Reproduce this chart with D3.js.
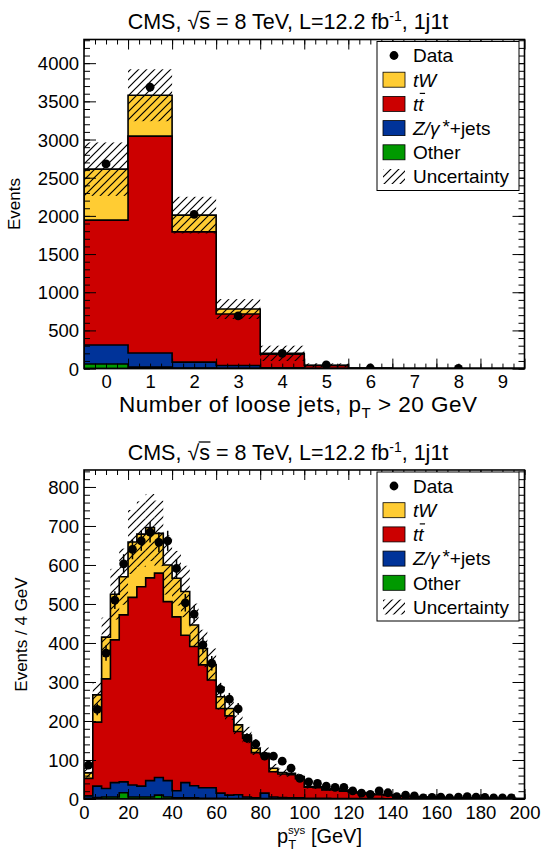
<!DOCTYPE html>
<html><head><meta charset="utf-8">
<script src="https://cdn.jsdelivr.net/npm/d3@7"></script>
<style>
body{margin:0;background:#fff}
svg{display:block}
text{font-family:"Liberation Sans",Arial,Helvetica,sans-serif;fill:#000}
</style>
</head><body>
<svg id="c" width="551" height="856"></svg>
<script>
// ---------------- Top panel: number of loose jets ----------------
const njetBins   = [0,1,2,3,4,5,6,7,8,9];
const njetData   = [2680,3685,2020,690,200,50,8,0,3,0];
const njetOther  = [60,20,8,3,1,0,0,0,0,0];
const njetZ      = [249,184,77,37,9,2,0.3,0,0,0];
const njetTT     = [1636,2840,1705,675,180,38,5,1,0.3,0.1];
const njetTW     = [667,536,220,65,10,3,0.5,0.2,0.1,0];
const njetUnc    = [350,340,240,130,100,25,4,1,0.5,0];
const njetXTicks = [0,1,2,3,4,5,6,7,8,9];
const njetYTicks = [0,500,1000,1500,2000,2500,3000,3500,4000];

// ---------------- Bottom panel: pT sys (4 GeV bins, 0-200) ----------------
const ptEdgesLow = [0,4,8,12,16,20,24,28,32,36,40,44,48,52,56,60,64,68,72,76,80,84,88,92,96,100,104,108,112,116,120,124,128,132,136,140,144,148,152,156,160,164,168,172,176,180,184,188,192,196];
const ptData  = [87,230,374,510,603,640,662,684,658,662,591,503,474,395,348,281,256,231,156,141,110,110,97,79,53,44,40,33,30,30,21,15,12,21,16,6,10,8,3,4,5,3,5,6,5,4,3,3,3,0];
const ptOther = [2,4,5,5,16,5,5,5,10,5,3,3,3,2,2,2,1,1,1,1,1,1,1,0,0,0,0,0,0,0,0,0,0,0,0,0,0,0,0,0,0,0,0,0,0,0,0,0,0,0];
const ptZ     = [6,29,22,37,28,31,28,42,45,42,18,39,31,27,27,13,9,10,4,2,14,4,3,3,3,2,2,2,1,1,1,1,1,1,0.5,0.5,0.4,0.3,0.3,0.2,0.2,0.2,0.1,0.1,0.1,0.1,0.1,0,0,0];
const ptTT    = [45,164,281,366,428,481,511,520,524,459,446,378,357,315,276,217,203,162,151,116,100,65,60,59,49,28,27,21,23,19,16,14,11,10,8.5,7,6.1,5.2,4.3,4.3,3.5,3,2.7,2.6,2.2,1.9,1.7,1.6,1.4,1.2];
const ptTW    = [14,70,107,117,98,142,135,129,102,94,99,112,55,42,39,30,19,17,8,11,2,9,4,4,5,2,2,2,2,2,1,1,1,1,1,0.5,0.5,0.5,0.4,0.5,0.3,0.3,0.2,0.3,0.2,0.2,0.2,0.2,0.1,0.1];
const ptUnc   = [12,32,50,65,72,82,84,86,84,76,70,66,55,48,42,33,29,24,21,17,15,11,10,9,8,5,5,4,4,3,3,3,2,2,2,2,1.5,1.5,1,1,1,1,1,1,1,1,1,1,1,1];
const ptXTicks = [0,20,40,60,80,100,120,140,160,180,200];
const ptYTicks = [0,100,200,300,400,500,600,700,800];

const legendLabels = ["Data","tW","tt","Z/γ","Other","Uncertainty"];
const colors = {tw:"#ffcc33", tt:"#cc0000", z:"#003399", other:"#009900"};

const svg = d3.select("#c");
const defs = svg.append("defs");
const pat = defs.append("pattern").attr("id","hatch").attr("patternUnits","userSpaceOnUse")
  .attr("width",8).attr("height",8);
pat.append("path").attr("d","M-2,2 L2,-2 M0,8 L8,0 M6,10 L10,6")
  .attr("stroke","#000").attr("stroke-width",1.2).attr("fill","none");

const X0 = 84, X1 = 524.5;

function panel(o){
  const g = svg.append("g");
  const x = d3.scaleLinear().domain(o.xDom).range([X0,X1]);
  const y = d3.scaleLinear().domain(o.yDom).range([o.yB,o.yT]);
  const clipId = "clip"+o.id;
  defs.append("clipPath").attr("id",clipId).append("rect")
    .attr("x",X0).attr("y",o.yT).attr("width",X1-X0).attr("height",o.yB-o.yT);
  const inner = g.append("g").attr("clip-path",`url(#${clipId})`);

  const n = o.lo.length;
  const rows = d3.range(n).map(i=>({lo:o.lo[i], hi:o.hi[i], other:o.other[i], z:o.z[i], tt:o.tt[i], tw:o.tw[i]}));
  const stack = d3.stack().keys(["other","z","tt","tw"])(rows);
  const area = d3.area()
    .x(d=>x(d[0])).y0(y(0)).y1(d=>y(d[1]));
  const order = [3,2,1,0];
  const fills = [colors.other, colors.z, colors.tt, colors.tw];
  order.forEach(k=>{
    const pts = [];
    stack[k].forEach((s,i)=>{ pts.push([rows[i].lo, s[1]]); pts.push([rows[i].hi, s[1]]); });
    inner.append("path").attr("d", area(pts))
      .attr("fill", fills[k]).attr("stroke","#000").attr("stroke-width",1.6).attr("stroke-linejoin","miter");
  });
  inner.selectAll("rect.unc").data(stack[3]).enter().append("rect")
    .attr("x",(d,i)=>x(rows[i].lo)).attr("width",(d,i)=>x(rows[i].hi)-x(rows[i].lo))
    .attr("y",(d,i)=>y(d[1]+o.unc[i]))
    .attr("height",(d,i)=>y(Math.max(d[1]-o.unc[i],0))-y(d[1]+o.unc[i]))
    .attr("fill","url(#hatch)");
  const dat = d3.range(n).filter(i=>o.data[i]>0).map(i=>({c:(o.lo[i]+o.hi[i])/2, v:o.data[i]}));
  inner.selectAll("line.err").data(dat).enter().append("line")
    .attr("x1",d=>x(d.c)).attr("x2",d=>x(d.c))
    .attr("y1",d=>y(d.v+Math.sqrt(d.v))).attr("y2",d=>y(Math.max(d.v-Math.sqrt(d.v),0)))
    .attr("stroke","#000").attr("stroke-width",1.5);
  inner.selectAll("circle.dat").data(dat).enter().append("circle")
    .attr("cx",d=>x(d.c)).attr("cy",d=>y(d.v)).attr("r",4.4).attr("fill","#000");

  function tk(axisFn, scale, vals, size, tr){
    g.append("g").attr("transform",tr)
      .call(axisFn(scale).tickValues(vals).tickSize(size).tickFormat(""))
      .call(s=>{s.select(".domain").remove(); s.selectAll("line").attr("stroke","#000").attr("stroke-width",1);});
  }
  tk(d3.axisBottom,x,o.xMajor,-10,`translate(0,${o.yB})`);
  tk(d3.axisBottom,x,o.xMinor,-5,`translate(0,${o.yB})`);
  tk(d3.axisTop,x,o.xMajor,-10,`translate(0,${o.yT})`);
  tk(d3.axisTop,x,o.xMinor,-5,`translate(0,${o.yT})`);
  tk(d3.axisLeft,y,o.yMajor,-12,`translate(${X0},0)`);
  tk(d3.axisLeft,y,o.yMinor,-6,`translate(${X0},0)`);
  tk(d3.axisRight,y,o.yMajor,-12,`translate(${X1},0)`);
  tk(d3.axisRight,y,o.yMinor,-6,`translate(${X1},0)`);

  g.append("g").attr("transform",`translate(0,${o.yB})`)
    .call(d3.axisBottom(x).tickValues(o.xLabels).tickSize(0).tickFormat(d3.format("d")))
    .call(s=>{s.select(".domain").remove();
      s.attr("font-family",null).attr("font-size",null);
      s.selectAll("text").attr("y",19.5).attr("dy",0).style("font-size","18.5px");});
  g.append("g").attr("transform",`translate(${X0},0)`)
    .call(d3.axisLeft(y).tickValues(o.yLabels).tickSize(0).tickPadding(5).tickFormat(d3.format("d")))
    .call(s=>{s.select(".domain").remove();
      s.attr("font-family",null).attr("font-size",null);
      s.selectAll("text").attr("dy","0.35em").style("font-size","18.5px");});

  g.append("rect").attr("x",X0).attr("y",o.yT).attr("width",X1-X0).attr("height",o.yB-o.yT)
    .attr("fill","none").attr("stroke","#000").attr("stroke-width",1.6);

  const t = g.append("text").attr("x",288).attr("y",o.yT-10.5).attr("text-anchor","middle").style("font-size","21.5px");
  t.append("tspan").text("CMS, √s = 8 TeV, L=12.2 fb");
  t.append("tspan").attr("dy",-8).style("font-size","14px").text("-1");
  t.append("tspan").attr("dy",8).text(", 1j1t");
  const es = t.node().getExtentOfChar(6);
  g.append("line").attr("x1",es.x-0.5).attr("x2",es.x+es.width+0.5)
    .attr("y1",o.yT-10.5-17.5).attr("y2",o.yT-10.5-17.5).attr("stroke","#000").attr("stroke-width",1.3);

  o.xTitle(g, o.yB+42.5);
  g.append("text").attr("transform",`translate(${o.yTitleX},${(o.yT+o.yB)/2}) rotate(-90)`)
    .attr("text-anchor","middle").style("font-size","17px").text(o.yTitle);

  const ly = o.yT+2;
  g.append("rect").attr("x",377).attr("y",ly).attr("width",142).attr("height",149)
    .attr("fill","#fff").attr("stroke","#000").attr("stroke-width",1);
  const ey = i=> ly+14+i*24.2;
  g.append("circle").attr("cx",394).attr("cy",ey(0)).attr("r",4.4).attr("fill","#000");
  const sw = [colors.tw, colors.tt, colors.z, colors.other];
  sw.forEach((c,i)=>{
    g.append("rect").attr("x",383).attr("y",ey(i+1)-7.5).attr("width",22).attr("height",15)
      .attr("fill",c).attr("stroke","#000").attr("stroke-width",0.8);
  });
  g.append("rect").attr("x",383).attr("y",ey(5)-7.5).attr("width",22).attr("height",15).attr("fill","url(#hatch)");
  const lt = (i)=> g.append("text").attr("x",413).attr("y",ey(i)).attr("dy","0.36em").style("font-size","19px");
  lt(0).text(legendLabels[0]);
  lt(1).append("tspan").style("font-style","italic").text(legendLabels[1]);
  const ttT = lt(2); ttT.append("tspan").style("font-style","italic").text(legendLabels[2]);
  const e2 = ttT.node().getExtentOfChar(1);
  g.append("line").attr("x1",e2.x+1.5).attr("x2",e2.x+e2.width+1.5).attr("y1",ey(2)-10.5).attr("y2",ey(2)-10.5)
    .attr("stroke","#000").attr("stroke-width",1.2);
  const zT = lt(3); zT.append("tspan").style("font-style","italic").text(legendLabels[3]);
  zT.append("tspan").attr("dx",3).attr("dy",-2).text("*");
  zT.append("tspan").attr("dy",2).text("+jets");
  lt(4).text(legendLabels[4]);
  lt(5).text(legendLabels[5]);
}

panel({
  id:"top", yT:39.5, yB:368.6, xDom:[-0.5,9.5], yDom:[0,4310],
  lo:njetBins.map(b=>b-0.5), hi:njetBins.map(b=>b+0.5),
  other:njetOther, z:njetZ, tt:njetTT, tw:njetTW, unc:njetUnc, data:njetData,
  xMajor:d3.range(-0.5,9.6,1), xMinor:d3.range(-0.5,9.5,0.25),
  yMajor:njetYTicks, yMinor:d3.range(0,4310,100),
  xLabels:njetXTicks, yLabels:njetYTicks,
  yTitle:"Events", yTitleX:20,
  xTitle:(g,yy)=>{
    const t=g.append("text").attr("x",298).attr("y",yy+1).attr("text-anchor","middle").style("font-size","22.5px")
      .attr("textLength",358).attr("lengthAdjust","spacing");
    t.append("tspan").text("Number of loose jets, p");
    t.append("tspan").attr("dy",6).style("font-size","15px").text("T");
    t.append("tspan").attr("dy",-6).text(" > 20 GeV");
  }
});

panel({
  id:"bot", yT:470, yB:799, xDom:[0,200], yDom:[0,843.5],
  lo:ptEdgesLow, hi:ptEdgesLow.map(v=>v+4),
  other:ptOther, z:ptZ, tt:ptTT, tw:ptTW, unc:ptUnc, data:ptData,
  xMajor:ptXTicks, xMinor:d3.range(0,201,5),
  yMajor:ptYTicks, yMinor:d3.range(0,843,20),
  xLabels:ptXTicks, yLabels:ptYTicks,
  yTitle:"Events / 4 GeV", yTitleX:27,
  xTitle:(g,yy)=>{
    const t=g.append("text").attr("x",277).attr("y",yy+1).attr("text-anchor","start").style("font-size","20px");
    t.append("tspan").text("p");
    t.append("tspan").attr("dy",6).style("font-size","13px").text("T");
    t.append("tspan").attr("dx",-8).attr("dy",-15).style("font-size","11.5px").text("sys");
    t.append("tspan").attr("dy",9).text(" [GeV]");
  }
});
</script>
</body></html>
